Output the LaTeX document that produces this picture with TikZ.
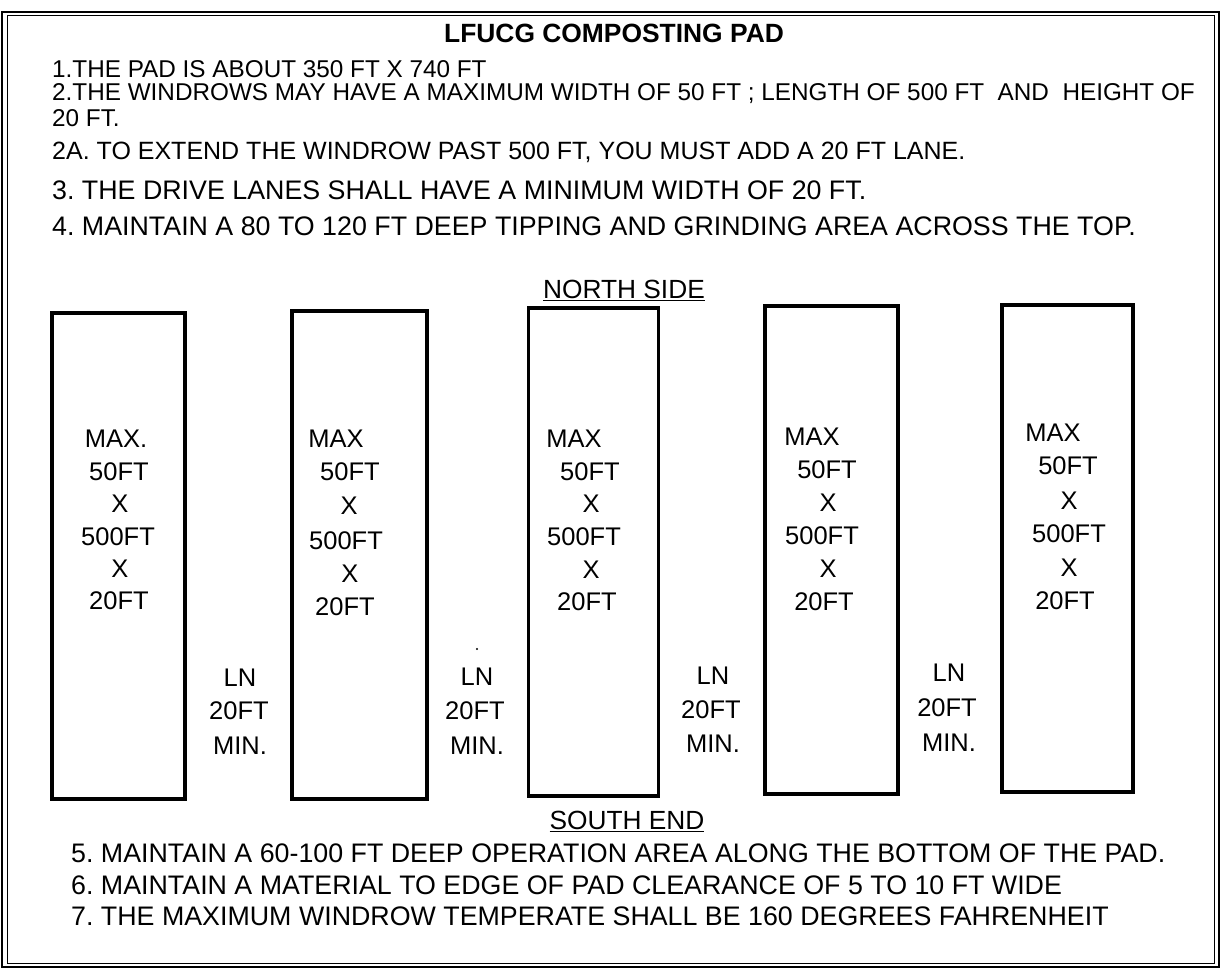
\documentclass[tikz,border=0pt]{standalone}
\usepackage{fontspec}
\setmainfont{Liberation Sans}
\frenchspacing
\begin{document}
\begin{tikzpicture}[x=1pt,y=-1pt,
  note/.style={inner sep=0pt, anchor=west, font=\fontsize{24.3}{24.3}\selectfont, text height=17.4pt, text depth=0pt},
  notemid/.style={inner sep=0pt, anchor=west, font=\fontsize{25}{25}\selectfont, text height=18pt, text depth=0pt},
  notebig/.style={inner sep=0pt, anchor=west, font=\fontsize{26.8}{26.8}\selectfont, text height=19.2pt, text depth=0pt},
  head/.style={inner sep=0pt, font=\bfseries\fontsize{26.4}{26.4}\selectfont, text height=19pt, text depth=0pt},
  side/.style={inner sep=0pt, font=\fontsize{26.3}{26.3}\selectfont, text height=19pt, text depth=0pt},
  wrow/.style={draw, line width=3.4pt, inner sep=0pt},
  lbl/.style={inner sep=0pt, font=\fontsize{25.5}{25.5}\selectfont, text height=18pt, text depth=0pt},
  frame/.style={line width=1.4pt}
]
\useasboundingbox (0,0) rectangle (1226,973);
\fill[white] (0,0) rectangle (1226,973);
% double outer frame
\draw[frame] (2,12) rectangle (1219,967);
\draw[frame, line width=1pt] (7,16) rectangle (1214,963);

% title and notes
\node[head] (title) at (614,33) {LFUCG COMPOSTING PAD};
\node[note] (n1) at (52,69) {1.THE PAD IS ABOUT 350 FT X 740 FT};
\node[note] (n2) at (52,92) {2.THE WINDROWS MAY HAVE A MAXIMUM WIDTH OF 50 FT ; LENGTH OF 500 FT\ \ AND\ \ HEIGHT OF};
\node[note] (n2b) at (52,118) {20 FT.};
\node[notemid] (n2a) at (52,151) {2A. TO EXTEND THE WINDROW PAST 500 FT, YOU MUST ADD A 20 FT LANE.};
\node[notebig] (n3) at (52,190) {3. THE DRIVE LANES SHALL HAVE A MINIMUM WIDTH OF 20 FT.};
\node[notebig] (n4) at (52,226) {4. MAINTAIN A 80 TO 120 FT DEEP TIPPING AND GRINDING AREA ACROSS THE TOP.};

\node[side] (north) at (624,289) {\underline{NORTH SIDE}};
\node[side] (south) at (627,820) {\underline{SOUTH END}};

% windrows
\node[wrow, minimum width=133pt, minimum height=486pt] (w1) at (118.5,556) {};
\node[wrow, minimum width=135pt, minimum height=488pt] (w2) at (359.5,555) {};
\node[wrow, minimum width=130pt, minimum height=488pt] (w3) at (593.5,552) {};
\node[wrow, minimum width=133pt, minimum height=488pt] (w4) at (831.5,550) {};
\node[wrow, minimum width=131pt, minimum height=487pt] (w5) at (1067.5,548.5) {};

% windrow labels
\node[lbl] (w1a) at (116,438) {MAX.};
\node[lbl] (w1b) at (119,471) {50FT};
\node[lbl] (w1c) at (120,503) {X};
\node[lbl] (w1d) at (118,536) {500FT};
\node[lbl] (w1e) at (120,568) {X};
\node[lbl] (w1f) at (119,600) {20FT};

\node[lbl] (w2a) at (336,438) {MAX};
\node[lbl] (w2b) at (350,471) {50FT};
\node[lbl] (w2c) at (349,505) {X};
\node[lbl] (w2d) at (346,540) {500FT};
\node[lbl] (w2e) at (350,573) {X};
\node[lbl] (w2f) at (345,606) {20FT};

\node[lbl] (w3a) at (574,438) {MAX};
\node[lbl] (w3b) at (590,471) {50FT};
\node[lbl] (w3c) at (591,503) {X};
\node[lbl] (w3d) at (584,536) {500FT};
\node[lbl] (w3e) at (591,569) {X};
\node[lbl] (w3f) at (587,601) {20FT};

\node[lbl] (w4a) at (812,436) {MAX};
\node[lbl] (w4b) at (827,469) {50FT};
\node[lbl] (w4c) at (828,502) {X};
\node[lbl] (w4d) at (822,535) {500FT};
\node[lbl] (w4e) at (828,568) {X};
\node[lbl] (w4f) at (824,601) {20FT};

\node[lbl] (w5a) at (1053,432) {MAX};
\node[lbl] (w5b) at (1068,465) {50FT};
\node[lbl] (w5c) at (1069,500) {X};
\node[lbl] (w5d) at (1069,533) {500FT};
\node[lbl] (w5e) at (1069,567) {X};
\node[lbl] (w5f) at (1065,600) {20FT};

% lane labels
\node[lbl] (l1a) at (240,677) {LN};
\node[lbl] (l1b) at (239,710) {20FT};
\node[lbl] (l1c) at (240,745) {MIN.};
\node[lbl] (l2a) at (477,676) {LN};
\node[lbl] (l2b) at (475,710) {20FT};
\node[lbl] (l2c) at (477,745) {MIN.};
\node[lbl] (l3a) at (713,675) {LN};
\node[lbl] (l3b) at (711,709) {20FT};
\node[lbl] (l3c) at (713,743) {MIN.};
\node[lbl] (l4a) at (949,672) {LN};
\node[lbl] (l4b) at (947,707) {20FT};
\node[lbl] (l4c) at (949,742) {MIN.};
\fill (477,649) circle (1.2pt);

% bottom notes
\node[notebig] (n5) at (71,853) {5. MAINTAIN A 60-100 FT DEEP OPERATION AREA ALONG THE BOTTOM OF THE PAD.};
\node[notebig] (n6) at (71,885) {6. MAINTAIN A MATERIAL TO EDGE OF PAD CLEARANCE OF 5 TO 10 FT WIDE};
\node[notebig] (n7) at (71,916) {7. THE MAXIMUM WINDROW TEMPERATE SHALL BE 160 DEGREES FAHRENHEIT};
\end{tikzpicture}
\end{document}
